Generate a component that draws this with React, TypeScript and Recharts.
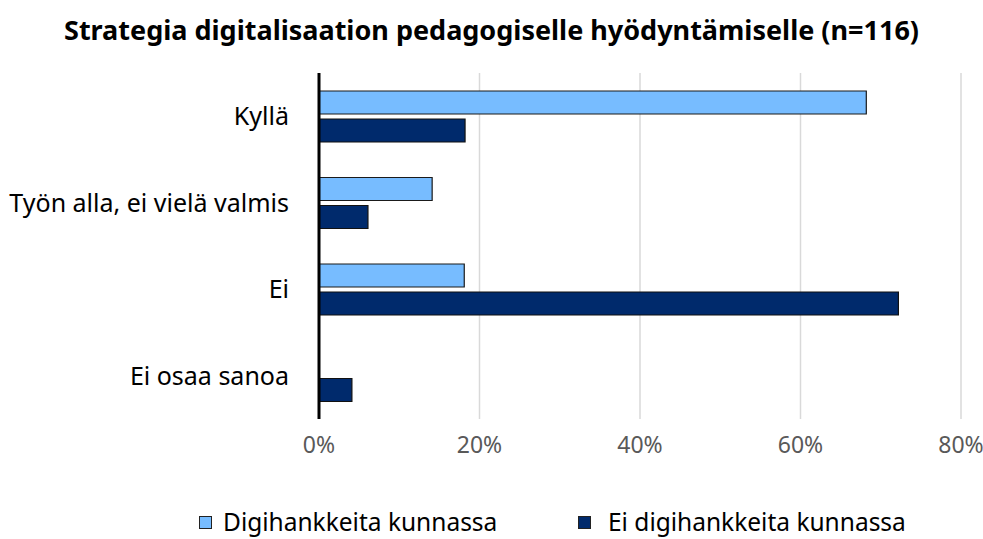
import React from 'react';
import { BarChart, Bar, XAxis, YAxis, CartesianGrid } from 'recharts';

const title = 'Strategia digitalisaation pedagogiselle hyödyntämiselle (n=116)';
const categories = ['Kyllä', 'Työn alla, ei vielä valmis', 'Ei', 'Ei osaa sanoa'];
const seriesNames = ['Digihankkeita kunnassa', 'Ei digihankkeita kunnassa'];
const digiValues = [0.682, 0.141, 0.181, 0];
const noDigiValues = [0.182, 0.061, 0.722, 0.041];
const xTicks = [0, 0.2, 0.4, 0.6, 0.8];

const colors = ['#77BCFF', '#002A6C'];
const FONT = '"Noto Sans", "Open Sans", sans-serif';
const legendLeft = [199, 578];

const data = categories.map((c, i) => ({ name: c, digi: digiValues[i], noDigi: noDigiValues[i] }));

export default function App() {
  return (
    <div style={{ position: 'absolute', left: 0, top: 0, width: 983, height: 539, background: '#fff', overflow: 'hidden' }}>
      <div style={{ position: 'absolute', left: 0, top: 12, width: 983, textAlign: 'center', fontFamily: FONT, fontWeight: 700, fontSize: 27, lineHeight: '36px', color: '#000', whiteSpace: 'nowrap' }}>
        {title}
      </div>
      <BarChart
        width={983}
        height={539}
        data={data}
        layout="vertical"
        margin={{ top: 73, right: 22, bottom: 60, left: 0 }}
        barSize={23}
        barGap={5}
        style={{ overflow: 'visible' }}
      >
        <CartesianGrid horizontal={false} vertical={true} stroke="#d9d9d9" strokeWidth={1.5} />
        <XAxis
          type="number"
          domain={[0, 0.8]}
          ticks={xTicks}
          tickFormatter={(v: number) => `${Math.round(v * 100)}%`}
          axisLine={false}
          tickLine={false}
          tickSize={0}
          tickMargin={18}
          height={60}
          tick={{ fill: '#595959', fontSize: 23, fontFamily: FONT }}
          interval={0}
        />
        <YAxis
          type="category"
          dataKey="name"
          width={319}
          axisLine={{ stroke: '#000', strokeWidth: 3 }}
          tickLine={false}
          tickSize={0}
          tickMargin={30}
          tick={{ fill: '#000', fontSize: 25, fontFamily: FONT }}
          interval={0}
        />
        <Bar dataKey="digi" name={seriesNames[0]} fill={colors[0]} stroke="#1a1a1a" strokeWidth={1.2} isAnimationActive={false} />
        <Bar dataKey="noDigi" name={seriesNames[1]} fill={colors[1]} stroke="#111" strokeWidth={1.2} isAnimationActive={false} />
      </BarChart>
      {seriesNames.map((n, i) => (
        <div key={n} style={{ position: 'absolute', left: legendLeft[i], top: 506, display: 'flex', alignItems: 'center', fontFamily: FONT, fontSize: 24.5, lineHeight: '32px', color: '#000', whiteSpace: 'nowrap' }}>
          <span style={{ display: 'inline-block', width: 11, height: 11, background: colors[i], border: '1px solid #222', marginRight: i === 0 ? 11 : 17 }} />
          <span>{n}</span>
        </div>
      ))}
    </div>
  );
}
